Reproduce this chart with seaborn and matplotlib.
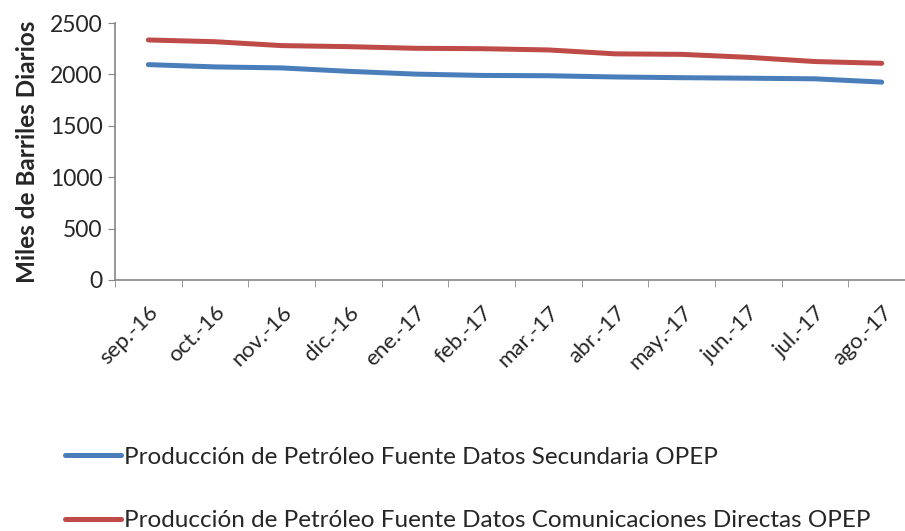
import matplotlib
matplotlib.use("Agg")
import matplotlib.pyplot as plt
import seaborn as sns
import pandas as pd
import numpy as np
from matplotlib.ticker import FixedLocator
from matplotlib.lines import Line2D

months = ["sep.-16", "oct.-16", "nov.-16", "dic.-16", "ene.-17", "feb.-17",
          "mar.-17", "abr.-17", "may.-17", "jun.-17", "jul.-17", "ago.-17"]
secundaria = [2095, 2073, 2063, 2030, 2003, 1990, 1987, 1975, 1968, 1963, 1957, 1925]
directas = [2335, 2318, 2280, 2270, 2254, 2250, 2238, 2200, 2195, 2166, 2125, 2108]
names = ["Producción de Petróleo Fuente Datos Secundaria OPEP",
         "Producción de Petróleo Fuente Datos Comunicaciones Directas OPEP"]
colors = ["#4A7EBB", "#BE4B48"]
yticks = [0, 500, 1000, 1500, 2000, 2500]

sns.set_style("white")
plt.rcParams['font.family'] = ['Lato', 'DejaVu Sans']

df = pd.DataFrame({
    "x": list(range(len(months))) * 2,
    "valor": secundaria + directas,
    "serie": [names[0]] * len(months) + [names[1]] * len(months),
})

fig = plt.figure(figsize=(9.05, 5.31), dpi=100)
W, H = 905, 531
left, right, top, bottom = 115, 905, 23, 280
ax = fig.add_axes([left / W, 1 - bottom / H, (right - left) / W, (bottom - top) / H])

sns.lineplot(data=df, x="x", y="valor", hue="serie", palette=colors,
             linewidth=3.6, ax=ax, legend=False, solid_capstyle="round")

step = 66.67
ax.set_xlim(-0.5, -0.5 + (right - left) / step)
ax.set_ylim(0, 2500)
ax.set_yticks(yticks)
ax.set_yticklabels([str(v) for v in yticks], fontsize=16.5)
ax.set_xticks(range(len(months)))
ax.set_xticklabels(months, rotation=45, ha="right", rotation_mode="anchor", fontsize=16)
ax.xaxis.set_minor_locator(FixedLocator(np.arange(-0.5, len(months), 1.0)))
ax.tick_params(axis="x", which="major", length=0, pad=16)
ax.tick_params(axis="x", which="minor", length=5, color="#868686", direction="out", bottom=True)
ax.tick_params(axis="y", length=5, color="#868686", direction="out", left=True, pad=4)
ax.set_xlabel("")
ax.set_ylabel("Miles de Barriles Diarios", fontsize=17.5, fontweight="bold", labelpad=8)

for s in ["top", "right"]:
    ax.spines[s].set_visible(False)
for s in ["left", "bottom"]:
    ax.spines[s].set_color("#868686")
    ax.spines[s].set_linewidth(1.2)

ax.grid(False)

handles = [Line2D([0], [0], color=c, lw=3.6, solid_capstyle="round") for c in colors]
fig.legend(handles, names, loc="upper left", bbox_to_anchor=(55 / W, 1 - 437 / H),
           frameon=False, fontsize=17.5, handlelength=2.3, handletextpad=0.12,
           labelspacing=1.75, borderaxespad=0)

fig.savefig("out.png", dpi=100)
